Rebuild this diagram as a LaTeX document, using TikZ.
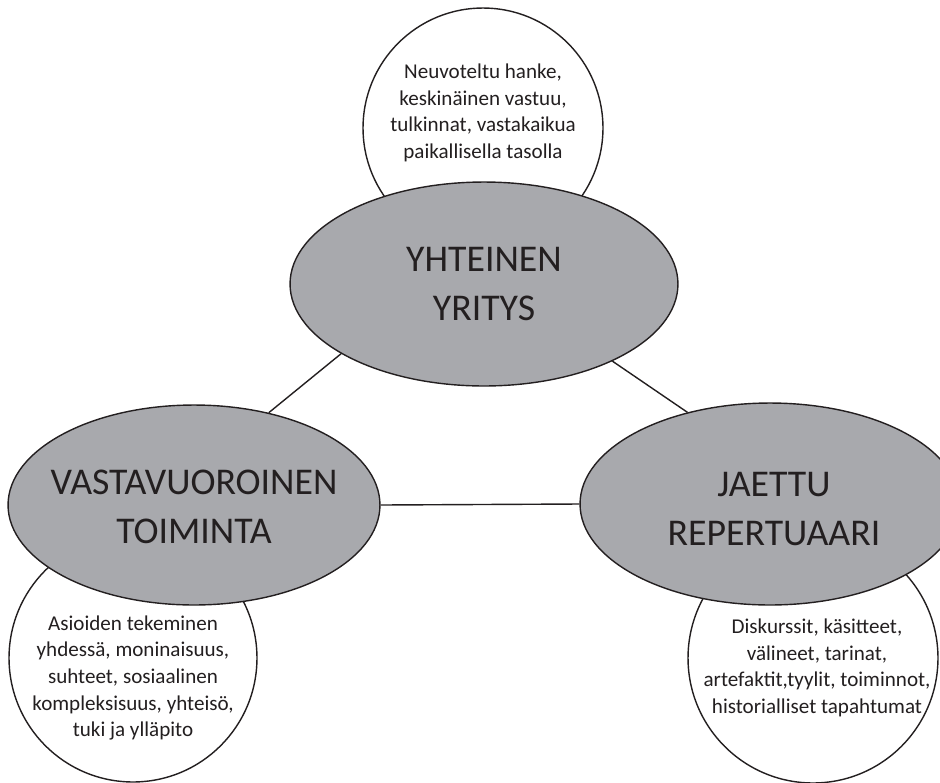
\documentclass[tikz,border=0pt]{standalone}
\usepackage{fontspec}
\setmainfont{Carlito}
\usepackage{tikz}
\usetikzlibrary{shapes.geometric}
\definecolor{ellgray}{RGB}{168,169,173}
\definecolor{inkgray}{RGB}{35,31,32}

\begin{document}
\begin{tikzpicture}[x=0.02cm, y=-0.02cm,
    core/.style={ellipse, draw=inkgray, line width=0.8pt, fill=ellgray,
                 inner sep=0pt},
    bubble/.style={circle, draw=inkgray, line width=0.8pt, fill=white,
                   inner sep=0pt},
    corelabel/.style={align=center, text=inkgray,
                      font=\fontsize{21.5}{28}\selectfont},
    bubbletext/.style={align=center, text=inkgray,
                       font=\fontsize{12}{15.2}\selectfont},
    link/.style={draw=inkgray, line width=0.8pt}]

    \useasboundingbox (0,0) rectangle (940,782);

    % Bubbles
    \node[bubble, minimum size=4.8cm] (ybub) at (483,128) {};
    \node[bubble, minimum size=4.96cm] (vbub) at (133,658) {};
    \node[bubble, minimum size=5cm] (jbub) at (813,658) {};

    % Cores
    \node[core, minimum width=7.76cm, minimum height=4.08cm] (yht) at (484,284) {};
    \node[core, minimum width=7.44cm, minimum height=4cm] (vast) at (194,505) {};
    \node[core, minimum width=7.6cm, minimum height=4.04cm] (jaet) at (770,504) {};

    % Connections
    \draw[link] (vast.51) -- (yht.206);
    \draw[link] (yht.329) -- (jaet.132);
    \draw[link] (vast.east) -- (jaet.west);

    % Core labels
    \node[corelabel] (yhtT) at (484,284) {YHTEINEN\\YRITYS};
    \node[corelabel] (vastT) at (194,507) {VASTAVUOROINEN\\TOIMINTA};
    \node[corelabel] (jaetT) at (774,509) {JAETTU\\REPERTUAARI};

    % Bubble texts
    \node[bubbletext] (ybubT) at (483,113) {Neuvoteltu hanke,\\keskinäinen vastuu,\\tulkinnat, vastakaikua\\paikallisella tasolla};
    \node[bubbletext] (vbubT) at (133,678) {Asioiden tekeminen\\yhdessä, moninaisuus,\\suhteet, sosiaalinen\\kompleksisuus, yhteisö,\\tuki ja ylläpito};
    \node[bubbletext] (jbubT) at (817,668) {Diskurssit, käsitteet,\\välineet, tarinat,\\artefaktit,tyylit, toiminnot,\\historialliset tapahtumat};
\end{tikzpicture}
\end{document}
